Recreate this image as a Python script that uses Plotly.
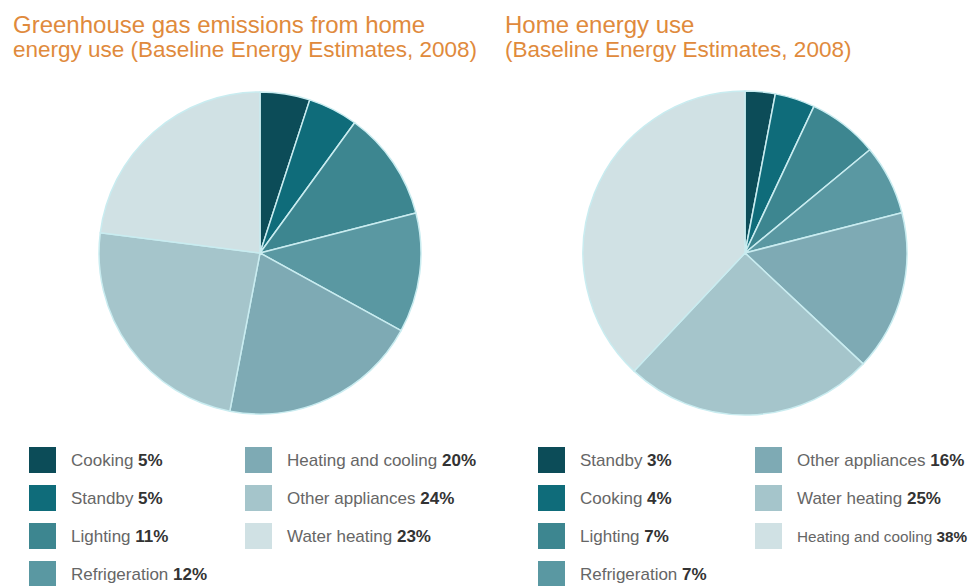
import plotly.graph_objects as go

W, H = 970, 586

ghg_labels = ["Cooking", "Standby", "Lighting", "Refrigeration",
              "Heating and cooling", "Other appliances", "Water heating"]
ghg_values = [5, 5, 11, 12, 20, 24, 23]

energy_labels = ["Standby", "Cooking", "Lighting", "Refrigeration",
                 "Other appliances", "Water heating", "Heating and cooling"]
energy_values = [3, 4, 7, 7, 16, 25, 38]

shades = ["#0c4c58", "#0f6c7a", "#3d8690", "#5a98a2", "#7eaab4", "#a5c5cb", "#d0e1e4"]

title_left = ["Greenhouse gas emissions from home",
              "energy use (Baseline Energy Estimates, 2008)"]
title_right = ["Home energy use", "(Baseline Energy Estimates, 2008)"]
title_sizes = [24, 22.5]

ORANGE = "#e08a3c"
FONT = "Liberation Sans, Arial, sans-serif"

def px_x(v):
    return v / W

def px_y(v):
    return 1 - v / H

fig = go.Figure()

def add_pie(labels, values, cx, cy, r):
    fig.add_trace(go.Pie(
        labels=labels, values=values, sort=False, direction="clockwise",
        rotation=0, textinfo="none", showlegend=False,
        marker=dict(colors=shades, line=dict(color="#c9ecf0", width=1.5)),
        domain=dict(x=[px_x(cx - r), px_x(cx + r)], y=[px_y(cy + r), px_y(cy - r)]),
    ))

add_pie(ghg_labels, ghg_values, 260, 253, 161)
add_pie(energy_labels, energy_values, 745, 253, 162)

annotations = []
shapes = []

for x0, lines in [(11, title_left), (503, title_right)]:
    for j, t in enumerate(lines):
        annotations.append(dict(
            x=px_x(x0), y=px_y(25 + j * 24), xref="paper", yref="paper",
            xanchor="left", yanchor="middle", align="left", showarrow=False,
            text=t, font=dict(family=FONT, size=title_sizes[j], color=ORANGE)))

def add_legend(labels, values, col_x, max_right):
    for i, (lab, val) in enumerate(zip(labels, values)):
        col = 0 if i < 4 else 1
        row = i if i < 4 else i - 4
        sx = col_x[col]
        cy = 460 + row * 38
        shapes.append(dict(type="rect", xref="paper", yref="paper",
                           x0=px_x(sx), x1=px_x(sx + 27),
                           y0=px_y(cy + 13), y1=px_y(cy - 13),
                           fillcolor=shades[i], line=dict(width=0)))
        text = f"{lab} <b><span style='color:#333'>{val}%</span></b>"
        n = len(lab) + len(str(val)) + 2
        size = 17
        avail = max_right - (sx + 40)
        est = n * size * 0.485
        if est > avail:
            size = round(avail / (n * 0.485), 1)
        annotations.append(dict(
            x=px_x(sx + 40), y=px_y(cy), xref="paper", yref="paper",
            xanchor="left", yanchor="middle", showarrow=False,
            text=text, font=dict(family=FONT, size=size, color="#666")))

add_legend(ghg_labels, ghg_values, [29, 245], 485)
add_legend(energy_labels, energy_values, [538, 755], 966)

fig.update_layout(
    width=W, height=H,
    margin=dict(l=0, r=0, t=0, b=0),
    paper_bgcolor="white", plot_bgcolor="white",
    annotations=annotations, shapes=shapes,
)

fig.write_html("out.html", config={"displayModeBar": False},
               post_script="document.body.style.margin='0';")
